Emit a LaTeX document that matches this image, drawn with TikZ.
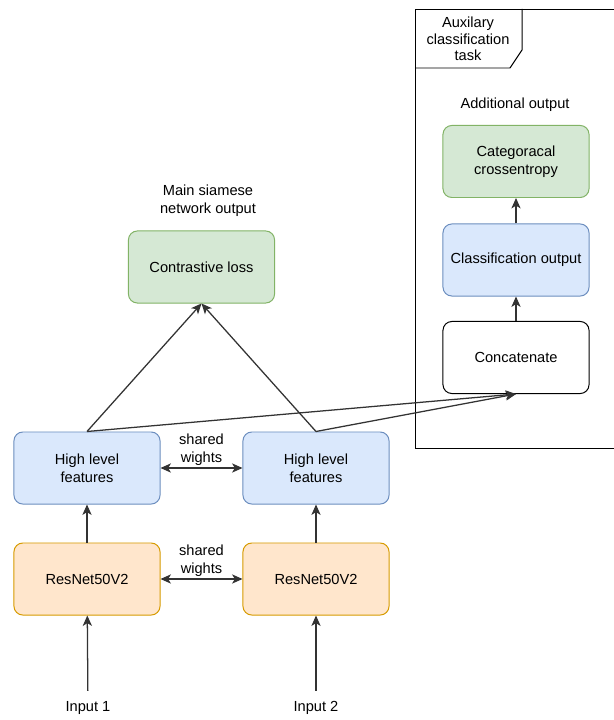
\documentclass[tikz,border=0pt]{standalone}
\usepackage{fontspec}
\setmainfont{Liberation Sans}
\usetikzlibrary{positioning,arrows.meta}
\definecolor{bluefill}{HTML}{DAE8FC}
\definecolor{blueline}{HTML}{6C8EBF}
\definecolor{greenfill}{HTML}{D5E8D4}
\definecolor{greenline}{HTML}{82B366}
\definecolor{orangefill}{HTML}{FFE6CC}
\definecolor{orangeline}{HTML}{D79B00}
\definecolor{linegray}{HTML}{333333}
\tikzset{
  every node/.style={font=\fontsize{10.4}{12.8}\selectfont, text=black},
  box/.style={draw, rounded corners=0.22cm, minimum width=3.65cm, minimum height=1.8cm, align=center, line width=0.7pt},
  bluebox/.style={box, draw=blueline, fill=bluefill},
  greenbox/.style={box, draw=greenline, fill=greenfill},
  orangebox/.style={box, draw=orangeline, fill=orangefill},
  plainbox/.style={box, draw=black, fill=white},
  lbl/.style={align=center},
  tip/.tip={Stealth[length=2.6mm,width=2.3mm,inset=0.7mm]},
  arr/.style={-tip, line width=0.9pt, draw=linegray},
  twoarr/.style={tip-tip, line width=0.9pt, draw=linegray},
}
\begin{document}
\begin{tikzpicture}[x=0.025cm,y=-0.025cm]
        \useasboundingbox (0,0) rectangle (613,720);
        \fill[white](0,0)rectangle(613,720);
        % auxiliary frame
        \draw[line width=0.7pt](415,9)rectangle(630,448);
        \draw[line width=0.7pt](415,68)--(510,68)--(522,50)--(522,9);
        \node[lbl,font=\fontsize{10.4}{11.7}\selectfont](aux)at(468,39){Auxilary\\classification\\task};
        \node[lbl](addout)at(515,105){Additional output};
        \node[greenbox](cce)at(516,161.5){Categoracal\\crossentropy};
        \node[bluebox](cls)at(516,260){Classification output};
        \node[plainbox](concat)at(516,357.5){Concatenate};
        % siamese part
        \node[lbl](mainout)at(208,201){Main siamese\\network output};
        \node[greenbox](loss)at(201.5,267){Contrastive loss};
        \node[bluebox](hl1)at(87,468){High level\\features};
        \node[bluebox](hl2)at(316,468){High level\\features};
        \node[orangebox](res1)at(87,579){ResNet50V2};
        \node[orangebox](res2)at(316,579){ResNet50V2};
        \node(in1)at(88,708){Input 1};
        \node(in2)at(316,708){Input 2};
        \node[lbl](sw1)at(201.5,450){shared\\wights};
        \node[lbl](sw2)at(201.5,561){shared\\wights};
        % connectors
        \draw[arr,shorten <=4pt](in1)--(res1);
        \draw[arr,shorten <=4pt](in2)--(res2);
        \draw[arr](res1)--(hl1);
        \draw[arr](res2)--(hl2);
        \draw[twoarr](hl1)--(hl2);
        \draw[twoarr](res1)--(res2);
        \draw[arr](hl1.north)--(loss.south);
        \draw[arr](hl2.north)--(loss.south);
        \draw[arr](hl1.north)--(concat.south);
        \draw[arr](hl2.north)--(concat.south);
        \draw[arr](concat)--(cls);
        \draw[arr](cls)--(cce);
    \end{tikzpicture}
\end{document}
